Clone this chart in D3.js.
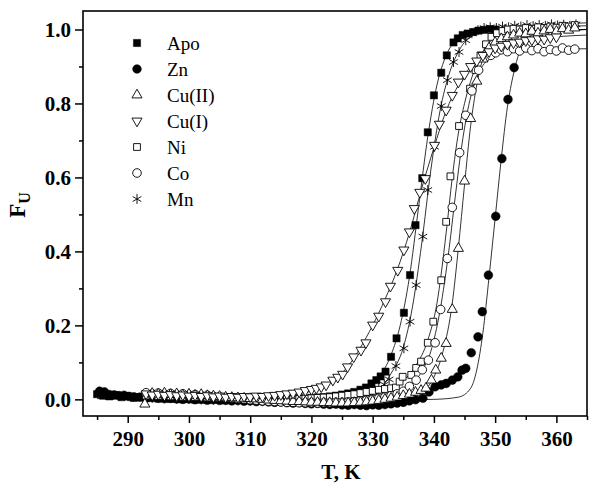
<!DOCTYPE html>
<html>
<head>
<meta charset="utf-8">
<script src="https://cdn.jsdelivr.net/npm/d3@7"></script>
<style>
  body { margin: 0; background: #fff; }
  svg text { font-family: "Liberation Serif", "Times New Roman", serif; fill: #000; }
</style>
</head>
<body>
<div id="chart"></div>
<script>
// measured points, [T (K), F_U]
const apo = [[285.0,0.014],[286.0,0.010],[287.0,0.008],[288.0,0.011],[289.0,0.006],[290.0,0.008],[291.0,0.004],[292.0,0.006],[293.0,0.003],[294.0,0.005],[295.0,0.002],[296.0,0.004],[297.0,0.001],[298.0,0.003],[299.0,0.000],[300.0,0.002],[301.0,-0.001],[302.0,0.001],[303.0,-0.002],[304.0,0.000],[305.0,-0.001],[306.0,-0.003],[307.0,0.000],[308.0,-0.002],[309.0,0.000],[310.0,-0.002],[311.0,0.000],[312.0,0.001],[313.0,-0.001],[314.0,0.001],[315.0,0.000],[316.0,0.002],[317.0,0.001],[318.0,0.003],[319.0,0.002],[320.0,0.004],[321.0,0.005],[322.0,0.006],[323.0,0.008],[324.0,0.010],[325.0,0.013],[326.0,0.016],[327.0,0.020],[328.0,0.026],[328.9,0.032],[329.8,0.043],[330.6,0.052],[331.3,0.062],[332.1,0.075],[333.0,0.115],[333.9,0.165],[335.1,0.234],[336.1,0.336],[337.0,0.471],[338.1,0.598],[339.0,0.722],[340.0,0.822],[341.2,0.883],[342.1,0.930],[343.2,0.965],[343.9,0.976],[344.7,0.985],[345.5,0.989],[346.4,0.993],[347.3,0.997],[348.2,0.999],[349.1,1.001],[350.0,1.000]];
const zn = [[285.4,0.022],[286.2,0.020],[287.0,0.013],[287.8,0.012],[288.6,0.010],[289.4,0.011],[290.2,0.008],[291.0,0.007],[292.0,0.006],[293.0,0.004],[294.0,0.005],[295.0,0.003],[296.0,0.002],[297.0,0.003],[298.0,0.001],[299.0,0.000],[300.0,0.001],[301.0,-0.001],[302.0,0.000],[303.0,-0.002],[304.0,-0.001],[305.0,-0.003],[306.0,-0.002],[307.0,-0.004],[308.0,-0.003],[309.0,-0.005],[310.0,-0.004],[311.0,-0.006],[312.0,-0.005],[313.0,-0.007],[314.0,-0.008],[315.0,-0.007],[316.0,-0.009],[317.0,-0.010],[318.0,-0.009],[319.0,-0.011],[320.0,-0.012],[321.0,-0.011],[322.0,-0.013],[323.0,-0.014],[324.0,-0.013],[325.0,-0.015],[326.0,-0.016],[327.0,-0.014],[328.0,-0.016],[329.0,-0.017],[330.0,-0.015],[331.0,-0.016],[332.0,-0.014],[333.0,-0.012],[334.0,-0.010],[335.0,-0.008],[336.0,-0.004],[337.0,-0.001],[338.2,0.003],[339.2,0.020],[340.2,0.034],[341.2,0.039],[342.0,0.043],[343.0,0.052],[343.9,0.061],[344.6,0.079],[345.2,0.084],[346.1,0.126],[347.2,0.169],[347.9,0.237],[348.9,0.336],[350.1,0.495],[351.1,0.651],[352.1,0.811],[353.1,0.897]];
const cu2 = [[292.8,-0.013],[294.0,0.016],[295.0,0.014],[296.0,0.017],[297.0,0.013],[298.0,0.015],[299.0,0.012],[300.0,0.014],[301.0,0.011],[302.0,0.013],[303.0,0.010],[304.0,0.009],[305.0,0.008],[306.0,0.006],[307.0,0.005],[308.0,0.004],[309.0,0.003],[310.0,0.002],[311.0,0.001],[312.0,0.000],[313.0,-0.002],[314.0,-0.003],[315.0,-0.004],[316.0,-0.005],[317.0,-0.006],[318.0,-0.006],[319.0,-0.007],[320.0,-0.008],[321.0,-0.008],[322.0,-0.009],[323.0,-0.009],[324.0,-0.010],[325.0,-0.010],[326.0,-0.010],[327.0,-0.009],[328.0,-0.008],[329.0,-0.007],[330.0,-0.005],[331.0,-0.003],[332.0,0.000],[333.0,0.003],[334.0,0.006],[335.0,0.010],[336.0,0.014],[337.0,0.019],[337.9,0.024],[338.7,0.030],[339.6,0.052],[340.3,0.079],[341.2,0.111],[342.0,0.151],[343.0,0.243],[344.0,0.408],[345.0,0.590],[346.0,0.759],[347.0,0.860],[348.0,0.920],[349.0,0.950],[350.0,0.965],[351.0,0.975],[352.0,0.980],[353.0,0.985],[354.0,0.990],[355.0,0.988],[356.0,0.995],[357.0,0.990],[358.0,0.996],[359.0,1.000],[360.0,0.995],[361.0,1.002],[362.0,0.998],[363.0,1.004]];
const cu1 = [[293.0,0.015],[294.0,0.012],[295.0,0.014],[296.0,0.011],[297.0,0.013],[298.0,0.010],[299.0,0.012],[300.0,0.009],[301.0,0.011],[302.0,0.008],[303.0,0.010],[304.0,0.007],[305.0,0.009],[306.0,0.006],[307.0,0.008],[308.0,0.006],[309.0,0.008],[310.0,0.007],[311.0,0.009],[312.0,0.008],[313.0,0.010],[314.0,0.011],[315.0,0.013],[316.0,0.015],[317.0,0.017],[318.0,0.020],[319.0,0.024],[320.0,0.027],[320.8,0.030],[321.6,0.034],[322.4,0.039],[323.5,0.052],[324.3,0.060],[325.1,0.068],[325.9,0.088],[326.9,0.115],[328.1,0.133],[328.9,0.153],[330.0,0.201],[331.0,0.225],[332.1,0.264],[332.9,0.306],[334.1,0.349],[335.1,0.404],[336.0,0.453],[336.8,0.516],[337.7,0.560],[338.6,0.597],[340.1,0.687],[340.9,0.744],[342.0,0.782],[343.0,0.822],[344.0,0.858],[345.0,0.879],[346.0,0.900],[347.0,0.915],[348.0,0.930],[349.0,0.940],[350.0,0.950],[351.0,0.955],[352.0,0.960],[353.0,0.964],[354.0,0.966],[355.0,0.970],[356.0,0.972],[357.0,0.975],[358.0,0.974],[359.0,0.978],[360.0,0.980]];
const ni = [[293.0,0.010],[294.0,0.012],[295.0,0.009],[296.0,0.011],[297.0,0.008],[298.0,0.010],[299.0,0.007],[300.0,0.009],[301.0,0.006],[302.0,0.008],[303.0,0.005],[304.0,0.007],[305.0,0.004],[306.0,0.005],[307.0,0.003],[308.0,0.004],[309.0,0.002],[310.0,0.003],[311.0,0.001],[312.0,0.002],[313.0,0.000],[314.0,0.001],[315.0,0.000],[316.0,0.001],[317.0,0.000],[318.0,0.001],[319.0,0.002],[320.0,0.003],[321.0,0.004],[322.0,0.005],[323.0,0.006],[324.0,0.008],[325.0,0.010],[326.0,0.012],[327.0,0.014],[328.0,0.017],[329.0,0.020],[330.0,0.023],[331.0,0.026],[332.0,0.028],[333.0,0.030],[333.8,0.032],[334.4,0.048],[334.9,0.061],[336.3,0.066],[337.1,0.085],[337.9,0.102],[339.0,0.153],[339.9,0.210],[341.2,0.322],[342.0,0.480],[342.7,0.603],[344.1,0.739],[345.9,0.840],[346.8,0.890],[347.6,0.930],[348.5,0.960],[349.4,0.980],[350.3,0.990],[351.2,0.996],[352.1,1.000],[353.0,1.002],[354.0,1.000],[355.0,1.004],[356.0,1.002],[357.0,1.006],[358.0,1.004],[359.0,1.008],[360.0,1.005],[361.0,1.010],[362.0,1.008],[363.0,1.012]];
const co = [[293.0,0.018],[294.0,0.015],[295.0,0.017],[296.0,0.014],[297.0,0.016],[298.0,0.013],[299.0,0.015],[300.0,0.012],[301.0,0.013],[302.0,0.010],[303.0,0.011],[304.0,0.008],[305.0,0.007],[306.0,0.005],[307.0,0.004],[308.0,0.002],[309.0,0.001],[310.0,-0.001],[311.0,-0.002],[312.0,-0.004],[313.0,-0.005],[314.0,-0.006],[315.0,-0.007],[316.0,-0.008],[317.0,-0.008],[318.0,-0.009],[319.0,-0.009],[320.0,-0.009],[321.0,-0.010],[322.0,-0.009],[323.0,-0.009],[324.0,-0.008],[325.0,-0.008],[326.0,-0.007],[327.0,-0.006],[328.0,-0.004],[329.0,-0.002],[330.0,0.000],[331.0,0.003],[332.0,0.006],[333.0,0.010],[334.0,0.015],[335.0,0.022],[336.0,0.035],[337.1,0.052],[338.1,0.080],[339.1,0.106],[340.2,0.153],[341.1,0.243],[342.2,0.381],[343.0,0.519],[344.2,0.667],[345.2,0.768],[346.2,0.834],[347.3,0.890],[348.5,0.926],[349.3,0.930],[350.1,0.937],[351.0,0.945],[352.0,0.940],[353.0,0.948],[354.0,0.942],[355.0,0.950],[356.0,0.943],[357.0,0.948],[358.0,0.940],[359.0,0.946],[360.0,0.942],[361.0,0.950],[362.0,0.944],[363.0,0.947]];
const mn = [[293.0,0.006],[294.0,0.004],[295.0,0.006],[296.0,0.003],[297.0,0.005],[298.0,0.002],[299.0,0.004],[300.0,0.001],[301.0,0.003],[302.0,0.000],[303.0,0.002],[304.0,-0.001],[305.0,0.001],[306.0,-0.002],[307.0,0.000],[308.0,-0.003],[309.0,-0.001],[310.0,-0.004],[311.0,-0.002],[312.0,-0.005],[313.0,-0.003],[314.0,-0.005],[315.0,-0.004],[316.0,-0.006],[317.0,-0.004],[318.0,-0.006],[319.0,-0.005],[320.0,-0.006],[321.0,-0.004],[322.0,-0.005],[323.0,-0.003],[324.0,-0.004],[325.0,-0.002],[326.0,0.000],[327.0,0.003],[328.0,0.007],[329.0,0.013],[330.0,0.020],[331.0,0.030],[331.9,0.040],[332.7,0.054],[333.8,0.090],[335.1,0.138],[336.1,0.210],[337.1,0.309],[338.2,0.440],[339.0,0.566],[340.1,0.683],[341.2,0.793],[342.2,0.863],[343.2,0.912],[344.1,0.939],[345.2,0.971],[346.2,0.990],[347.2,0.998],[348.2,1.004],[349.2,1.006],[350.2,1.004],[351.2,1.008],[352.2,1.006],[353.2,1.010],[354.2,1.008],[355.2,1.012],[356.2,1.009],[357.2,1.012],[358.2,1.010],[359.2,1.014],[360.2,1.011],[361.2,1.013],[362.2,1.010],[363.2,1.014]];

// fitted curves
const apoFit = [[285,0.006],[320,0.004],[326,0.012],[329,0.03],[331,0.06],[333,0.12],[334.5,0.2],[336,0.33],[337.5,0.52],[339,0.71],[340.5,0.85],[342,0.93],[344,0.975],[347,0.995],[352,1.0],[364.9,1.0]];
const znFit = [[285,0.002],[330,-0.002],[340,0.0],[344,0.006],[346,0.03],[347,0.08],[348,0.18],[349,0.33],[350,0.49],[351,0.65],[352,0.79],[353,0.88],[354,0.94],[355,0.97],[357,0.99],[364.9,1.0]];
const cu2Fit = [[293,0.01],[320,0.0],[335,0.005],[338,0.02],[340,0.06],[341.5,0.13],[343,0.26],[344,0.41],[345,0.58],[346,0.74],[347,0.85],[348,0.92],[350,0.965],[353,0.985],[364.9,1.0]];
const cu1Fit = [[293,0.01],[315,0.012],[320,0.022],[323,0.045],[326,0.09],[328,0.14],[330,0.2],[332,0.27],[334,0.35],[336,0.45],[338,0.57],[340,0.68],[342,0.78],[344,0.85],[346,0.9],[350,0.95],[355,0.97],[364.9,0.985]];
const niFit = [[293,0.008],[325,0.008],[332,0.02],[335,0.05],[337,0.09],[339,0.16],[340.5,0.26],[342,0.45],[343,0.6],[344,0.72],[345,0.8],[346,0.86],[348,0.94],[350,0.98],[353,1.0],[364.9,1.018]];
const coFit = [[293,0.012],[320,-0.005],[333,0.01],[336,0.035],[338,0.075],[339.5,0.13],[341,0.24],[342.5,0.41],[343.5,0.55],[344.5,0.68],[345.5,0.78],[347,0.87],[349,0.92],[352,0.94],[364.9,0.948]];
const mnFit = [[293,0.004],[320,-0.004],[328,0.005],[331,0.025],[333,0.07],[335,0.14],[336.5,0.25],[338,0.42],[339.5,0.62],[341,0.78],[342.5,0.88],[344,0.94],[346,0.98],[350,1.0],[364.9,1.01]];

const seriesNames = ['Apo', 'Zn', 'Cu(II)', 'Cu(I)', 'Ni', 'Co', 'Mn'];
const xTicks = [290, 300, 310, 320, 330, 340, 350, 360];
const xMinor = [285, 295, 305, 315, 325, 335, 345, 355, 365];
const yTicks = [0.0, 0.2, 0.4, 0.6, 0.8, 1.0];
const yMinor = [0.1, 0.3, 0.5, 0.7, 0.9];

const width = 600, height = 486;
const margin = {top: 11, right: 13, bottom: 70, left: 83};
const serif = '"Liberation Serif", "Times New Roman", serif';

const svg = d3.select('#chart')
  .append('svg')
  .attr('width', width)
  .attr('height', height);

const x = d3.scaleLinear()
  .domain([282.7, 365])
  .range([margin.left, width - margin.right]);
const y = d3.scaleLinear()
  .domain([-0.045, 1.05])
  .range([height - margin.bottom, margin.top]);

// marker styles per series
const series = [
  {data: apo, fit: apoFit, type: d3.symbolSquare, size: 52, fill: '#000', rot: 0},
  {data: zn, fit: znFit, type: d3.symbolCircle, size: 60, fill: '#000', rot: 0},
  {data: cu2, fit: cu2Fit, type: d3.symbolTriangle, size: 44, fill: '#fff', rot: 0},
  {data: cu1, fit: cu1Fit, type: d3.symbolTriangle, size: 44, fill: '#fff', rot: 180},
  {data: ni, fit: niFit, type: d3.symbolSquare, size: 46, fill: '#fff', rot: 0},
  {data: co, fit: coFit, type: d3.symbolCircle, size: 58, fill: '#fff', rot: 0},
  {data: mn, fit: mnFit, type: d3.symbolAsterisk, size: 70, fill: 'none', rot: 0},
];

const line = d3.line()
  .x(d => x(d[0]))
  .y(d => y(d[1]))
  .curve(d3.curveMonotoneX);

const plot = svg.append('g');

// fit lines
plot.selectAll('path.fit')
  .data(series)
  .join('path')
  .attr('class', 'fit')
  .attr('d', s => line(s.fit))
  .attr('fill', 'none')
  .attr('stroke', '#000')
  .attr('stroke-width', 0.8);

// points
const drawOrder = [1, 0, 6, 4, 5, 2, 3];
drawOrder.forEach(i => {
  const s = series[i];
  plot.append('g')
    .selectAll('path')
    .data(s.data)
    .join('path')
    .attr('d', d3.symbol().type(s.type).size(s.size))
    .attr('transform', d => `translate(${x(d[0])},${y(d[1])}) rotate(${s.rot})`)
    .attr('fill', s.fill)
    .attr('stroke', '#000')
    .attr('stroke-width', s.fill === '#000' ? 0.5 : 0.9);
});

// frame
svg.append('rect')
  .attr('x', margin.left)
  .attr('y', margin.top)
  .attr('width', width - margin.left - margin.right)
  .attr('height', height - margin.top - margin.bottom)
  .attr('fill', 'none')
  .attr('stroke', '#000')
  .attr('stroke-width', 1.6);

// x axis
const xAxis = svg.append('g')
  .attr('transform', `translate(0,${height - margin.bottom})`);
xAxis.call(d3.axisBottom(x).tickValues(xTicks).tickSize(7).tickPadding(8).tickFormat(d3.format('d')));
xAxis.append('g')
  .call(d3.axisBottom(x).tickValues(xMinor).tickSize(4).tickFormat(''));

// y axis
const yAxis = svg.append('g')
  .attr('transform', `translate(${margin.left},0)`);
yAxis.call(d3.axisLeft(y).tickValues(yTicks).tickSize(8).tickPadding(4).tickFormat(d3.format('.1f')));
yAxis.append('g')
  .call(d3.axisLeft(y).tickValues(yMinor).tickSize(4).tickFormat(''));

[xAxis, yAxis].forEach(a => {
  a.attr('font-family', serif).attr('font-size', 21).attr('font-weight', 'bold');
  a.selectAll('.domain').remove();
  a.selectAll('.tick line').attr('stroke-width', 1.5);
  a.selectAll('.tick text').attr('fill', '#000');
});

// axis titles
svg.append('text')
  .attr('x', 341)
  .attr('y', 479)
  .attr('text-anchor', 'middle')
  .attr('font-family', serif)
  .attr('font-weight', 'bold')
  .attr('font-size', 21)
  .text('T, K');

const yTitle = svg.append('text')
  .attr('transform', 'translate(25,205) rotate(-90)')
  .attr('text-anchor', 'middle')
  .attr('font-family', serif)
  .attr('font-weight', 'bold')
  .attr('font-size', 23);
yTitle.append('tspan').text('F');
yTitle.append('tspan').attr('dy', 5).attr('font-size', 16).text('U');

// legend
const legend = svg.append('g');
series.forEach((s, i) => {
  const ly = 43 + i * 26;
  legend.append('path')
    .attr('d', d3.symbol().type(s.type).size(s.size)())
    .attr('transform', `translate(137,${ly}) rotate(${s.rot})`)
    .attr('fill', s.fill)
    .attr('stroke', '#000')
    .attr('stroke-width', s.fill === '#000' ? 0.5 : 0.9);
  legend.append('text')
    .attr('x', 167)
    .attr('y', ly)
    .attr('dy', '0.35em')
    .attr('font-family', serif)
    .attr('font-size', 19)
    .text(seriesNames[i]);
});
</script>
</body>
</html>
